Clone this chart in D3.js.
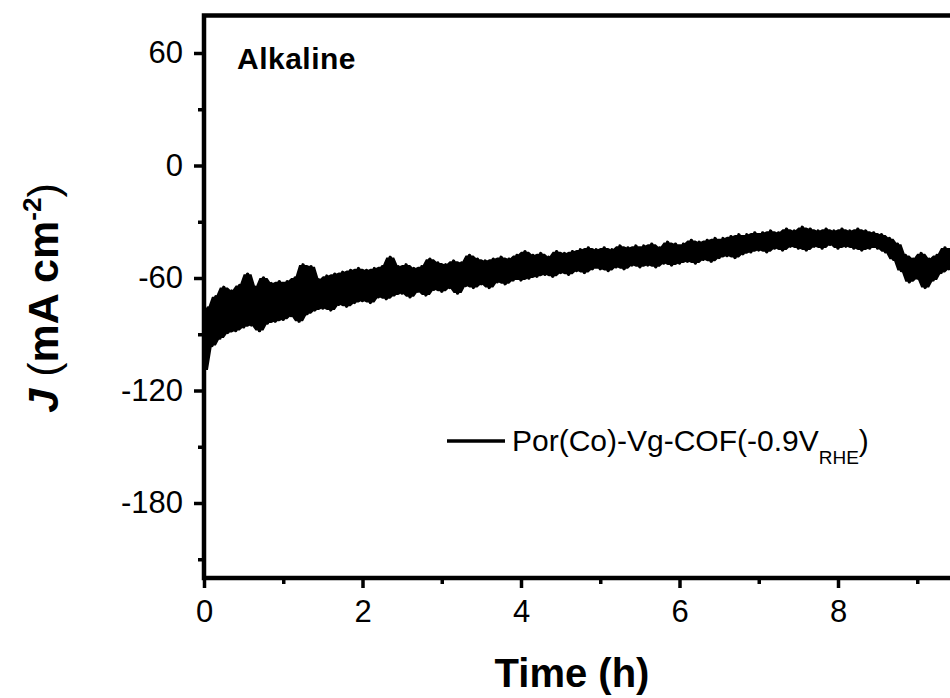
<!DOCTYPE html>
<html>
<head>
<meta charset="utf-8">
<script src="https://cdn.jsdelivr.net/npm/d3@7"></script>
<style>
  body { margin: 0; background: #fff; }
  text { font-family: "Liberation Sans", Arial, sans-serif; fill: #000; }
</style>
</head>
<body>
<div class="chart-area"></div>
<script>
var timeStep = 0.05;
var current = [
  -109, -76, -96, -70, -92, -65, -89, -67, -88, -64,
  -86, -58, -85, -65, -88, -60, -84, -63, -83, -62,
  -82, -62, -80, -60, -83, -53, -79, -54, -77, -61,
  -76, -59, -77, -58, -74, -57, -75, -56, -73, -55,
  -72, -56, -73, -55, -70, -54, -71, -49, -69, -54,
  -68, -53, -70, -55, -67, -54, -69, -50, -66, -52,
  -67, -53, -65, -51, -68, -52, -64, -48, -65, -50,
  -63, -51, -65, -50, -62, -49, -63, -50, -61, -48,
  -61, -46, -60, -48, -59, -47, -58, -49, -59, -46,
  -57, -47, -58, -46, -56, -45, -57, -44, -55, -45,
  -55, -44, -56, -45, -54, -43, -55, -44, -53, -43,
  -54, -43, -53, -42, -54, -44, -52, -41, -53, -42,
  -52, -42, -51, -40, -52, -41, -50, -40, -51, -39,
  -49, -39, -48, -38, -49, -37, -47, -37, -46, -36,
  -45, -36, -46, -35, -44, -36, -45, -34, -43, -35,
  -44, -33, -45, -34, -43, -35, -44, -34, -42, -35,
  -44, -34, -43, -35, -44, -34, -45, -35, -44, -36,
  -44, -37, -46, -39, -50, -42, -56, -48, -62, -50,
  -60, -47, -65, -50, -61, -48, -57, -44, -55, -44,
  -54
];
var xMajor = [0, 2, 4, 6, 8],
    xMinor = [1, 3, 5, 7, 9],
    yMajor = [60, 0, -60, -120, -180],
    yMinor = [30, -30, -90, -150, -210];

var chartWidth = 950, chartHeight = 698,
    plotLeft = 204, plotTop = 15.5, plotBottom = 578,
    plotRight = 996.5;

var svg = d3.select(".chart-area")
            .append("svg")
            .attr("width", chartWidth)
            .attr("height", chartHeight);

var x = d3.scaleLinear().domain([0, 10]).range([plotLeft, plotRight]),
    y = d3.scaleLinear().domain([-220, 80]).range([plotBottom, plotTop]);

// the noise is dense, so fill between neighbouring samples to get the solid band
function near(i) { return current.slice(Math.max(0, i - 1), i + 2) }

var band = d3.area()
  .x(function(d, i) { return x(i * timeStep) })
  .y0(function(d, i) { return y(d3.min(near(i))) })
  .y1(function(d, i) { return y(d3.max(near(i))) });

svg.append("path")
   .datum(current)
   .attr("d", band)
   .attr("fill", "#000");

var line = d3.line()
  .x(function(d, i) { return x(i * timeStep) })
  .y(function(d) { return y(d) });

svg.append("path")
   .datum(current)
   .attr("d", line)
   .attr("fill", "none")
   .attr("stroke", "#000")
   .attr("stroke-width", 3.5)
   .attr("stroke-linejoin", "round");

// axes
function plainNum(d) { return String(d) }

function styleAxis(g, sw) {
  g.select(".domain").remove();
  g.selectAll(".tick line").attr("stroke", "#000").attr("stroke-width", sw);
  g.selectAll(".tick text").style("font-size", "31px").attr("fill", "#000");
}

svg.append("g")
   .attr("transform", "translate(" + plotLeft + ",0)")
   .call(d3.axisLeft(y).tickValues(yMajor).tickSize(10).tickPadding(11).tickFormat(plainNum))
   .call(styleAxis, 3.5);

svg.append("g")
   .attr("transform", "translate(" + plotLeft + ",0)")
   .call(d3.axisLeft(y).tickValues(yMinor).tickSize(6).tickFormat(""))
   .call(styleAxis, 3.5);

svg.append("g")
   .attr("transform", "translate(0," + plotBottom + ")")
   .call(d3.axisBottom(x).tickValues(xMajor).tickSize(10).tickPadding(12).tickFormat(plainNum))
   .call(styleAxis, 3.5);

svg.append("g")
   .attr("transform", "translate(0," + plotBottom + ")")
   .call(d3.axisBottom(x).tickValues(xMinor).tickSize(6).tickFormat(""))
   .call(styleAxis, 3.5);

// frame
svg.append("rect")
   .attr("x", plotLeft)
   .attr("y", plotTop)
   .attr("width", plotRight - plotLeft)
   .attr("height", plotBottom - plotTop)
   .attr("fill", "none")
   .attr("stroke", "#000")
   .attr("stroke-width", 4.5);

// labels
svg.append("text")
   .attr("x", 237)
   .attr("y", 69)
   .style("font-size", "30px")
   .style("font-weight", "bold")
   .style("letter-spacing", "0.5px")
   .text("Alkaline");

svg.append("text")
   .attr("x", 572)
   .attr("y", 687)
   .attr("text-anchor", "middle")
   .style("font-size", "40px")
   .style("font-weight", "bold")
   .text("Time (h)");

var yTitle = svg.append("text")
   .attr("transform", "translate(58,298) rotate(-90)")
   .attr("text-anchor", "middle")
   .style("font-size", "43px")
   .style("font-weight", "bold");
yTitle.append("tspan").style("font-style", "italic").text("J ");
yTitle.append("tspan").style("font-weight", "normal").text("(");
yTitle.append("tspan").text("mA cm");
yTitle.append("tspan").attr("dy", -17).style("font-size", "26px").text("-2");
yTitle.append("tspan").attr("dy", 17).style("font-weight", "normal").text(")");

// legend
svg.append("line")
   .attr("x1", 447).attr("x2", 505)
   .attr("y1", 441).attr("y2", 441)
   .attr("stroke", "#000")
   .attr("stroke-width", 3.5);

var legend = svg.append("text")
   .attr("x", 512)
   .attr("y", 451)
   .style("font-size", "30px");
legend.append("tspan").text("Por(Co)-Vg-COF(-0.9V");
legend.append("tspan").attr("dy", 13).style("font-size", "19px").text("RHE");
legend.append("tspan").attr("dy", -13).text(")");
</script>
</body>
</html>
